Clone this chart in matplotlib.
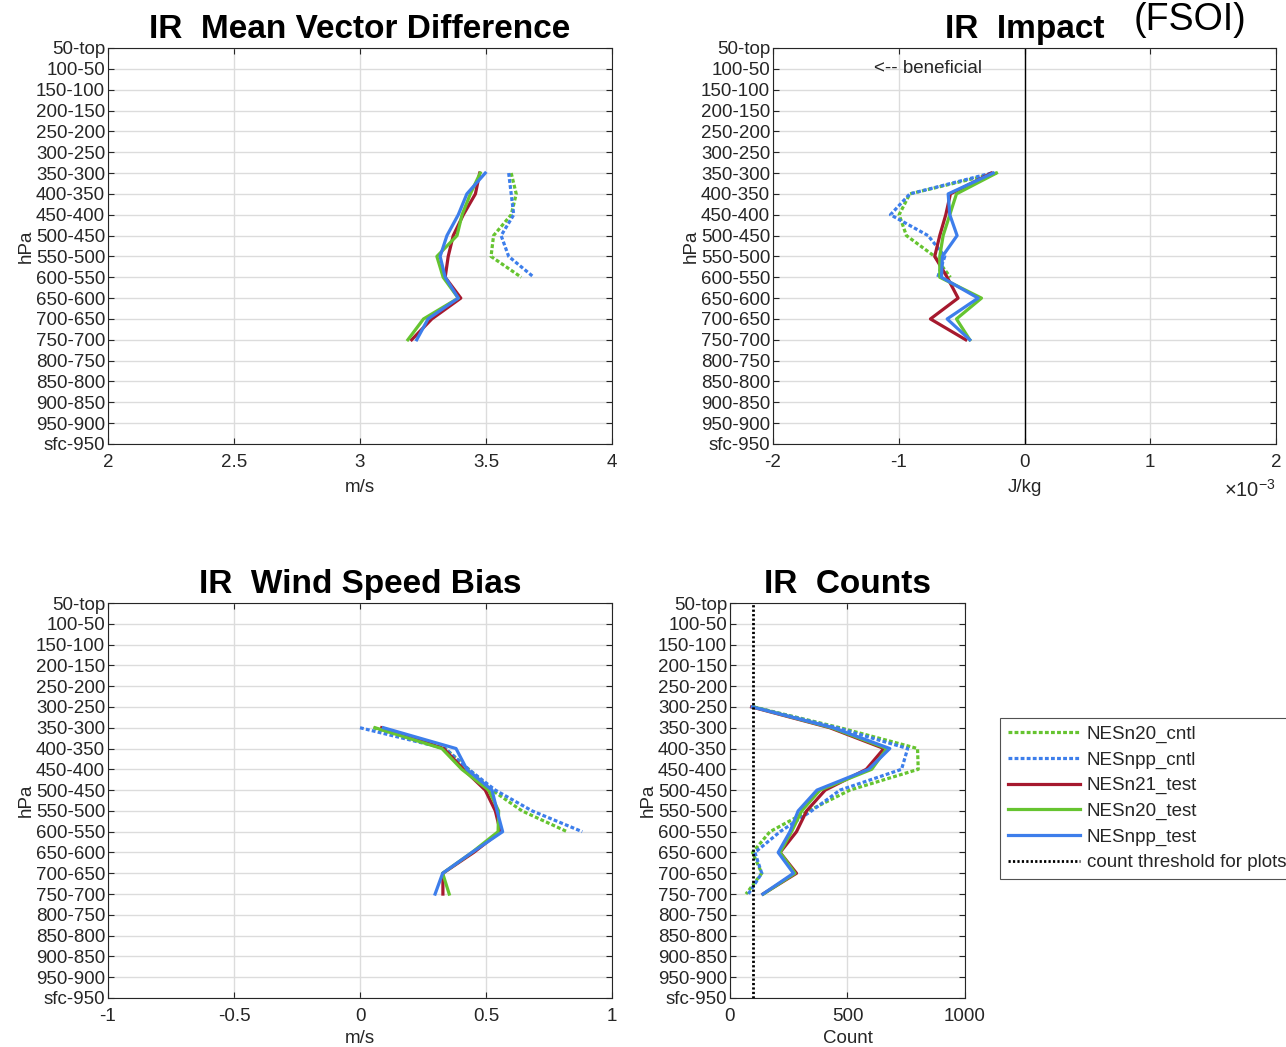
import numpy as np
import matplotlib
matplotlib.use("Agg")
import matplotlib.pyplot as plt

plt.rcParams['font.family'] = ['Liberation Sans', 'DejaVu Sans']
plt.rcParams['mathtext.fontset'] = 'custom'
plt.rcParams['mathtext.rm'] = 'Liberation Sans'

TXT = '#262626'

# Pressure layers, top of the atmosphere first
levels = ["50-top", "100-50", "150-100", "200-150", "250-200", "300-250",
          "350-300", "400-350", "450-400", "500-450", "550-500", "600-550",
          "650-600", "700-650", "750-700", "800-750", "850-800", "900-850",
          "950-900", "sfc-950"]

# Layers with data: 350-300 ... 750-700 (indices 6..14)
stat_start = 6
# Counts also include 300-250 (index 5)
count_start = 5

# Mean vector difference (m/s)
mvd_n20_cntl = [3.60, 3.62, 3.60, 3.53, 3.52, 3.64]
mvd_npp_cntl = [3.59, 3.60, 3.61, 3.56, 3.59, 3.69]
mvd_n21_test = [3.475, 3.458, 3.41, 3.37, 3.35, 3.338, 3.40, 3.285, 3.205]
mvd_n20_test = [3.477, 3.438, 3.405, 3.385, 3.305, 3.33, 3.39, 3.252, 3.19]
mvd_npp_test = [3.497, 3.424, 3.39, 3.345, 3.318, 3.338, 3.39, 3.27, 3.225]

# FSOI impact (J/kg, x1e-3)
imp_n20_cntl = [-0.223, -0.912, -0.997, -0.939, -0.714, -0.589]
imp_npp_cntl = [-0.263, -0.912, -1.066, -0.767, -0.634, -0.69]
imp_n21_test = [-0.263, -0.589, -0.626, -0.674, -0.714, -0.615, -0.528, -0.748, -0.467]
imp_n20_test = [-0.223, -0.541, -0.594, -0.647, -0.674, -0.674, -0.342, -0.541, -0.435]
imp_npp_test = [-0.249, -0.607, -0.594, -0.536, -0.653, -0.66, -0.369, -0.615, -0.435]

# Wind speed bias (m/s)
bias_n20_cntl = [0.053, 0.338, 0.431, 0.524, 0.643, 0.822]
bias_npp_cntl = [0.0, 0.338, 0.431, 0.537, 0.683, 0.882]
bias_n21_test = [0.086, 0.332, 0.411, 0.497, 0.537, 0.557, 0.451, 0.329, 0.329]
bias_n20_test = [0.06, 0.325, 0.404, 0.51, 0.55, 0.548, 0.444, 0.328, 0.354]
bias_npp_test = [0.093, 0.381, 0.424, 0.524, 0.544, 0.566, 0.444, 0.328, 0.298]

# Observation counts
cnt_n20_cntl = [100, 468, 798, 801, 510, 333, 170, 96, 135, 68]
cnt_npp_cntl = [100, 454, 756, 730, 468, 347, 213, 106, 135, 78]
cnt_n21_test = [92, 425, 655, 580, 405, 326, 283, 213, 283, 140]
cnt_n20_test = [100, 432, 667, 603, 383, 305, 262, 213, 277, 142]
cnt_npp_test = [95, 440, 680, 590, 370, 290, 255, 205, 270, 140]
count_threshold = 100

GREEN = '#66C430'
BLUE = '#3D7EEB'
RED = '#A6192E'
DOT = (0, (1.2, 0.7))
LW = 2.3
FS = 13.5
TFS = 24

series_style = [
    ("NESn20_cntl", GREEN, DOT),
    ("NESnpp_cntl", BLUE, DOT),
    ("NESn21_test", RED, '-'),
    ("NESn20_test", GREEN, '-'),
    ("NESnpp_test", BLUE, '-'),
]

W, H = 1286, 1047
fig = plt.figure(figsize=(W / 100, H / 100), dpi=100)


def make_axes(l, t, r, b):
    return fig.add_axes([l / W, 1 - b / H, (r - l) / W, (b - t) / H])


def style_axes(ax, title, xlabel, xlabelpad=6):
    ax.set_ylim(len(levels) - 1, 0)
    ax.set_yticks(np.arange(len(levels)))
    ax.set_yticklabels(levels)
    ax.grid(True, color='#DCDCDC', linewidth=1.0)
    ax.set_axisbelow(True)
    ax.tick_params(direction='in', length=4, width=0.8, labelsize=FS,
                   top=True, right=True, colors=TXT)
    ax.tick_params(axis='y', pad=2)
    ax.tick_params(axis='x', pad=7)
    for s in ax.spines.values():
        s.set_linewidth(0.8)
        s.set_color(TXT)
    ax.set_ylabel("hPa", fontsize=FS, labelpad=1, color=TXT)
    ax.set_xlabel(xlabel, fontsize=FS, labelpad=xlabelpad, color=TXT)
    ax.set_title(title, fontsize=TFS, fontweight='bold', pad=7, color='black')


def plot_series(ax, data, start):
    lines = []
    for (name, color, ls), vals in zip(series_style, data):
        y = np.arange(start, start + len(vals))
        ln, = ax.plot(vals, y, color=color, linestyle=ls, linewidth=LW, label=name)
        lines.append(ln)
    return lines


# Mean vector difference
ax1 = make_axes(108, 48, 612, 444)
plot_series(ax1, [mvd_n20_cntl, mvd_npp_cntl, mvd_n21_test, mvd_n20_test, mvd_npp_test], stat_start)
style_axes(ax1, "IR  Mean Vector Difference", "m/s")
ax1.set_xlim(2, 4)
ax1.set_xticks([2, 2.5, 3, 3.5, 4])
ax1.set_xticklabels(["2", "2.5", "3", "3.5", "4"])

# FSOI impact
ax2 = make_axes(773, 48, 1276, 444)
scale = 1e-3
plot_series(ax2, [np.array(v) * scale for v in
                  [imp_n20_cntl, imp_npp_cntl, imp_n21_test, imp_n20_test, imp_npp_test]], stat_start)
style_axes(ax2, "IR  Impact", "J/kg")
ax2.axvline(0, color='black', linewidth=1.0)
ax2.set_xlim(-2e-3, 2e-3)
ax2.set_xticks(np.array([-2, -1, 0, 1, 2]) * scale)
ax2.set_xticklabels(["-2", "-1", "0", "1", "2"])
ax2.text(-0.77e-3, 1, "<-- beneficial", fontsize=FS, ha='center', va='center', color=TXT)
ax2.text(1.0, -0.115, r"$\times\mathregular{10^{-3}}$", transform=ax2.transAxes,
         fontsize=FS + 1, ha='right', va='center', color=TXT)
fig.text(1190 / W, 1 - 20 / H, "(FSOI)", fontsize=27, ha='center', va='center')

# Wind speed bias
ax3 = make_axes(108, 603, 612, 998)
plot_series(ax3, [bias_n20_cntl, bias_npp_cntl, bias_n21_test, bias_n20_test, bias_npp_test], stat_start)
style_axes(ax3, "IR  Wind Speed Bias", "m/s", xlabelpad=4)
ax3.set_xlim(-1, 1)
ax3.set_xticks([-1, -0.5, 0, 0.5, 1])
ax3.set_xticklabels(["-1", "-0.5", "0", "0.5", "1"])

# Counts
ax4 = make_axes(730, 603, 965, 998)
handles = plot_series(ax4, [cnt_n20_cntl, cnt_npp_cntl, cnt_n21_test, cnt_n20_test, cnt_npp_test], count_start)
thr = ax4.axvline(count_threshold, color='black', linestyle=(0, (0.8, 0.8)), linewidth=2.0,
                  label="count threshold for plots")
style_axes(ax4, "IR  Counts", "Count", xlabelpad=4)
ax4.set_xlim(0, 1000)
ax4.set_xticks([0, 500, 1000])

leg = fig.legend(handles + [thr], [h.get_label() for h in handles] + [thr.get_label()],
                 loc='upper left', bbox_to_anchor=(1000 / W, 1 - 718 / H),
                 fontsize=FS, frameon=True, fancybox=False, edgecolor=TXT,
                 handlelength=3.85, handletextpad=0.37, labelspacing=0.45,
                 borderpad=0.4, borderaxespad=0)
leg.get_frame().set_linewidth(0.8)
for t in leg.get_texts():
    t.set_color(TXT)

fig.savefig("out.png", dpi=100)
